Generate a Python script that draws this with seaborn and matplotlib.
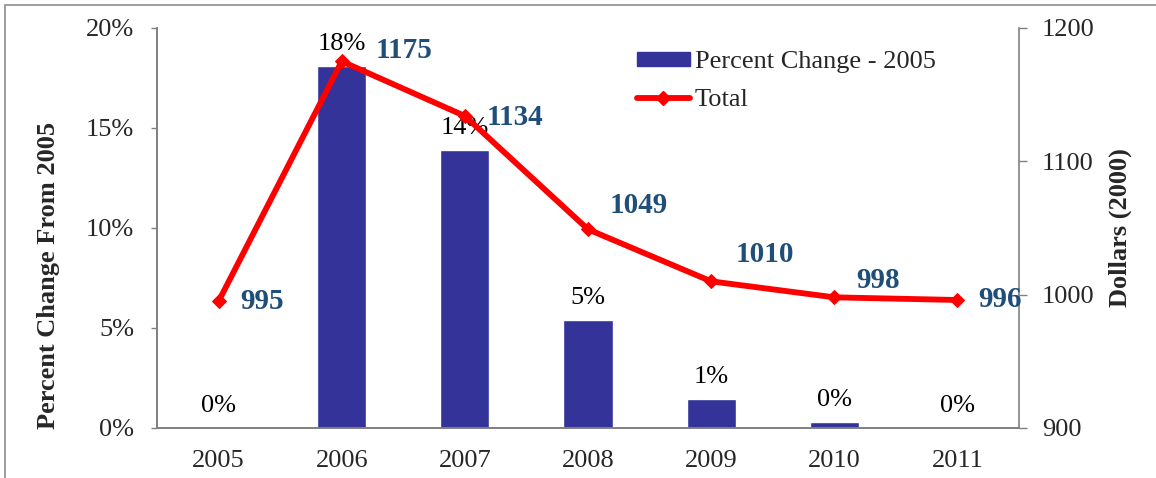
import numpy as np
import matplotlib
matplotlib.use("Agg")
import matplotlib.pyplot as plt
import seaborn as sns
from matplotlib.patches import Patch, Rectangle
from matplotlib.lines import Line2D

years = ["2005", "2006", "2007", "2008", "2009", "2010", "2011"]
pct_change = [0.0, 18.1, 13.9, 5.4, 1.45, 0.3, 0.0]
pct_labels = ["0%", "18%", "14%", "5%", "1%", "0%", "0%"]
totals = [995, 1175, 1134, 1049, 1010, 998, 996]

# label nudges (pixels) for the total labels, like the hand-placed excel ones
lab_off = [(22, 0), (34, 11), (22, -2), (22, 24), (24, 27), (22, 17), (21, 0)]

sns.set_theme(style="white")
plt.rcParams["font.family"] = ["Liberation Serif", "DejaVu Serif"]

bar_col = "#333399"
line_col = "#FF0000"
val_col = "#1F4E79"
grey = "#808080"
fs = 19

fig = plt.figure(figsize=(11.56, 4.78), dpi=100)
ax = fig.add_axes([157 / 1156, 1 - 428 / 478, (1019 - 157) / 1156, 400 / 478])

sns.barplot(x=years, y=pct_change, color=bar_col, width=0.4, saturation=1, ax=ax)
ax.set_xlim(-0.5, 6.5)
ax.set_ylim(0, 20)
ax.set_yticks([0, 5, 10, 15, 20])
ax.set_yticklabels(["0%", "5%", "10%", "15%", "20%"])
ax.set_xticks(np.arange(-0.5, 7, 1))
ax.set_xticklabels([""] * 8)
ax.set_xticks(range(7), minor=True)
ax.set_xticklabels(years, minor=True)
ax.tick_params(axis="x", which="major", direction="out", length=5, width=1, color=grey)
ax.tick_params(axis="x", which="minor", direction="in", length=3.5, width=1, color=grey,
               labelsize=fs, pad=16)
ax.tick_params(axis="y", direction="out", length=4.3, width=1, color=grey, labelsize=fs, pad=12)
ax.set_ylabel("Percent Change From 2005", fontsize=fs, fontweight="bold")
ax.yaxis.set_label_coords(-0.1125, 0.3825)

for i, (v, t) in enumerate(zip(pct_change, pct_labels)):
    ax.annotate(t, xy=(i, v), xytext=(0, 16), textcoords="offset pixels",
                ha="center", va="baseline", fontsize=fs, color="black")

ax2 = ax.twinx()
sns.lineplot(x=np.arange(7), y=totals, ax=ax2, color=line_col, linewidth=4.2,
             marker="D", markersize=7.5, markeredgecolor=line_col)
ax2.set_xlim(-0.5, 6.5)
ax2.set_ylim(900, 1200)
ax2.set_yticks([900, 1000, 1100, 1200])
ax2.tick_params(axis="y", direction="out", length=5.5, width=1, color=grey, labelsize=fs, pad=11)
ax2.set_ylabel("Dollars (2000)", fontsize=fs, fontweight="bold", labelpad=10)

for i, v in enumerate(totals):
    dx, dy = lab_off[i]
    ax2.annotate(str(v), xy=(i, v), xytext=(dx, dy), textcoords="offset pixels",
                 ha="left", va="center", fontsize=21, fontweight="bold", color=val_col)

for a in (ax, ax2):
    a.spines["top"].set_visible(False)
    for s in ("left", "right", "bottom"):
        a.spines[s].set_color(grey)
        a.spines[s].set_linewidth(1.2)
ax.spines["right"].set_visible(False)

handles = [Patch(color=bar_col), Line2D([0], [0], color=line_col, lw=4.2, marker="D",
                                        markersize=7.5)]
ax2.legend(handles, ["Percent Change - 2005", "Total"], loc="upper left",
           bbox_to_anchor=((637 - 157) / 862, (428 - 51) / 400), frameon=False,
           fontsize=fs, handlelength=2.0, handleheight=0.45, handletextpad=0.2,
           labelspacing=0.62, borderpad=0, borderaxespad=0)

fig.add_artist(Rectangle((5 / 1156, -0.05), 1.1, 1.05 - 5 / 478, transform=fig.transFigure,
                         fill=False, edgecolor="#8c8c8c", lw=1.2))

fig.savefig("out.png", dpi=100)
